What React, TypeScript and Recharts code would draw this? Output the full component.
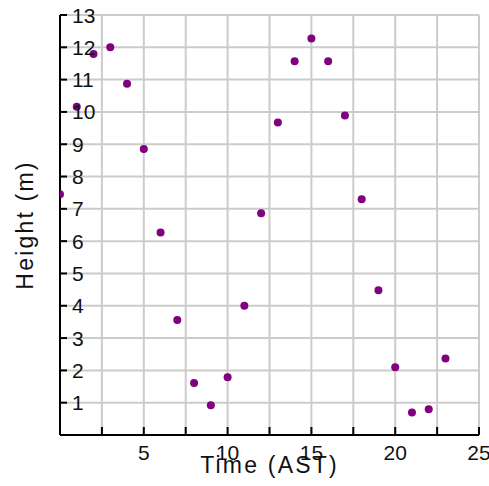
import React from 'react';
import { ScatterChart, Scatter, XAxis, YAxis, CartesianGrid } from 'recharts';

const hours = [0, 1, 2, 3, 4, 5, 6, 7, 8, 9, 10, 11, 12, 13, 14, 15, 16, 17, 18, 19, 20, 21, 22, 23];
const heights = [7.45, 10.16, 11.79, 12.0, 10.87, 8.85, 6.27, 3.56, 1.61, 0.92, 1.79, 4.0, 6.86, 9.67, 11.57, 12.27, 11.57, 9.89, 7.3, 4.48, 2.1, 0.7, 0.8, 2.37];

const xTicks = [0, 2.5, 5, 7.5, 10, 12.5, 15, 17.5, 20, 22.5, 25];
const xLabeled = [5, 10, 15, 20, 25];
const yTicks = [0, 1, 2, 3, 4, 5, 6, 7, 8, 9, 10, 11, 12, 13];
const yLabeled = [1, 2, 3, 4, 5, 6, 7, 8, 9, 10, 11, 12, 13];

const data = hours.map((h, i) => ({ time: h, height: heights[i] }));

const FONT = '"Liberation Sans", Arial, sans-serif';

const XTick = (props: any) => {
  const { x, y, payload } = props;
  const v = payload.value;
  return (
    <g>
      <line x1={x} x2={x} y1={y} y2={y - 8} stroke="#000" strokeWidth={2} />
      {xLabeled.includes(v) && (
        <text x={x} y={y + 17} textAnchor="middle" dominantBaseline="central" fontFamily={FONT} fontSize={21} fill="#111">
          {v}
        </text>
      )}
    </g>
  );
};

const YTick = (props: any) => {
  const { x, y, payload } = props;
  const v = payload.value;
  return (
    <g>
      <line x1={x} x2={x + 7} y1={y} y2={y} stroke="#000" strokeWidth={2} />
      {yLabeled.includes(v) && (
        <text x={x + 12} y={y} textAnchor="start" dominantBaseline="central" fontFamily={FONT} fontSize={21} fill="#111">
          {v}
        </text>
      )}
    </g>
  );
};

const XTitle = (props: any) => {
  const vb = props.viewBox;
  return (
    <text x={vb.x + vb.width / 2} y={vb.y + 30} textAnchor="middle" dominantBaseline="central" fontFamily={FONT} fontSize={23} letterSpacing={2.2} fill="#111">
      Time (AST)
    </text>
  );
};

const YTitle = (props: any) => {
  const vb = props.viewBox;
  const cx = 25;
  const cy = vb.y + vb.height / 2;
  return (
    <text transform={`translate(${cx},${cy}) rotate(-90)`} x={0} y={0} textAnchor="middle" dominantBaseline="central" fontFamily={FONT} fontSize={23} letterSpacing={2.2} fill="#111">
      Height (m)
    </text>
  );
};

const Dot = (props: any) => <circle cx={props.cx} cy={props.cy} r={4} fill="#800080" />;

export default function App() {
  return (
    <div style={{ position: 'absolute', left: 0, top: 0, width: 489, height: 486, background: '#fff' }}>
      <ScatterChart width={489} height={486} margin={{ top: 15, right: 10, left: 0, bottom: 0 }}>
        <CartesianGrid stroke="#cccccc" strokeWidth={2} horizontalValues={yTicks} verticalValues={xTicks} />
        <XAxis
          type="number"
          dataKey="time"
          domain={[0, 25]}
          ticks={xTicks}
          interval={0}
          height={51}
          tickSize={0}
          tickMargin={0}
          tickLine={false}
          tick={XTick}
          axisLine={{ stroke: '#000', strokeWidth: 2 }}
          allowDataOverflow
          label={{ content: XTitle }}
        />
        <YAxis
          type="number"
          dataKey="height"
          domain={[0, 13]}
          ticks={yTicks}
          interval={0}
          width={60}
          tickSize={0}
          tickMargin={0}
          tickLine={false}
          tick={YTick}
          axisLine={{ stroke: '#000', strokeWidth: 2 }}
          allowDataOverflow
          label={{ content: YTitle }}
        />
        <Scatter data={data} shape={Dot} isAnimationActive={false} />
      </ScatterChart>
    </div>
  );
}
